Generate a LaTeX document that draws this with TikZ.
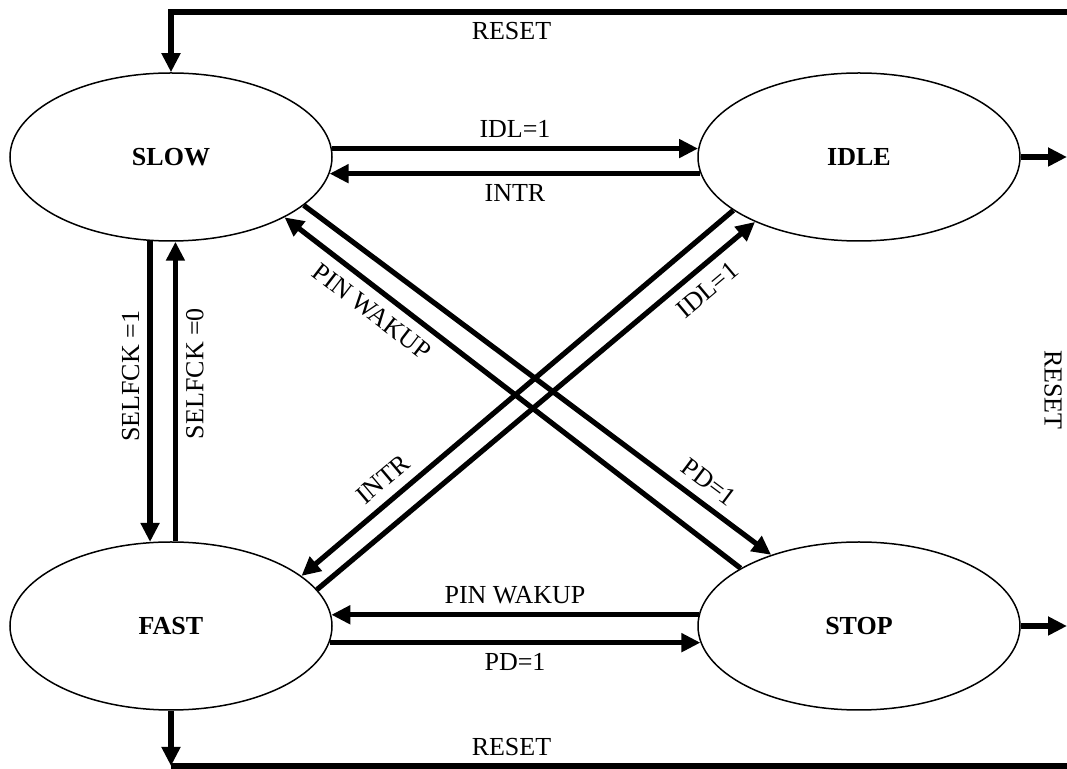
\documentclass[tikz,border=0pt]{standalone}
\usepackage{fontspec}
\setmainfont{Liberation Serif}
\usetikzlibrary{arrows.meta,shapes.geometric}

\begin{document}
\begin{tikzpicture}[ x=0.5pt, y=-0.5pt, >={Triangle[length=9.5pt 0,width=9pt 0]},
    font=\fontsize{13}{15}\selectfont,
    state/.style={ellipse, draw, line width=0.75pt, minimum width=161pt, minimum height=84pt, inner sep=0pt, font=\fontsize{13}{15}\selectfont\bfseries},
    wire/.style={line width=2.6pt},
    lbl/.style={inner sep=4pt},
    dlbl/.style={inner sep=5pt, sloped} ]

    \useasboundingbox (0,0) rectangle (1067,769);

% Etats

    \node[state] (SLOW) at (171,157) {SLOW};
    \node[state] (IDLE) at (859,157) {IDLE};
    \node[state] (FAST) at (171,626) {FAST};
    \node[state] (STOP) at (859,626) {STOP};

% Bords

    \coordinate (rtop) at (1067,12);
    \coordinate (ridle) at (1067,157);
    \coordinate (rstop) at (1067,626);
    \coordinate (fdown) at (171,766);
    \coordinate (rbot) at (1067,766);

% Transitions horizontales

    \draw[wire,->] (SLOW.3) -- node[lbl, above] {IDL=1} (IDLE.177);
    \draw[wire,->] (IDLE.186) -- node[lbl, below] {INTR} (SLOW.-6);
    \draw[wire,->] (STOP.176) -- node[lbl, above] {PIN WAKUP} (FAST.4);
    \draw[wire,->] (FAST.-6) -- node[lbl, below] {PD=1} (STOP.186);

% Transitions verticales

    \draw[wire,->] (SLOW.256) -- node[lbl, pos=0.45, rotate=90, anchor=south] {SELFCK =1} (FAST.104);
    \draw[wire,->] (FAST.87) -- node[lbl, pos=0.56, rotate=90, anchor=north] {SELFCK =0} (SLOW.273);

% Diagonales

    \draw[wire,->] (SLOW.-20) -- node[dlbl, pos=0.84, above] {PD=1} (STOP.141);
    \draw[wire,->] (STOP.154) -- node[dlbl, pos=0.78, below] {PIN WAKUP} (SLOW.-28);
    \draw[wire,->] (FAST.14) -- node[dlbl, pos=0.86, below] {IDL=1} (IDLE.212);
    \draw[wire,->] (IDLE.203) -- node[dlbl, pos=0.78, above] {INTR} (FAST.21);

% RESET

    \draw[wire,->] (rtop) -| node[lbl, pos=0.31, below] {RESET} (SLOW.north);
    \draw[wire,->] (IDLE.east) -- (ridle);
    \draw[wire,->] (STOP.east) -- (rstop);
    \draw[wire,->] (FAST.south) -- (fdown);
    \draw[wire] (fdown) -- node[lbl, pos=0.38, above] {RESET} (rbot);
    \node[rotate=-90] (rst) at (1053,390) {RESET};

\end{tikzpicture}
\end{document}
